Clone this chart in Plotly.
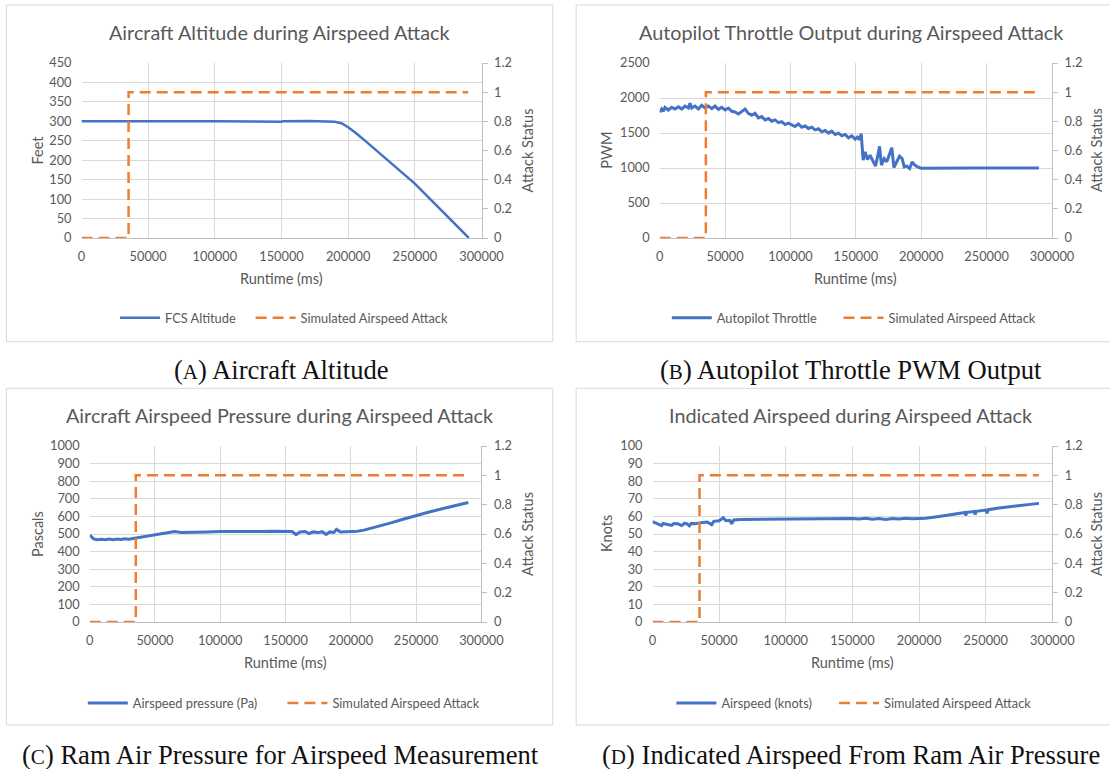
import plotly.graph_objects as go

W, H = 1110, 769

# ---------------- data ----------------
runtime_ticks = [0, 50000, 100000, 150000, 200000, 250000, 300000]

# Simulated airspeed attack status (secondary axis)
atk_x = [0, 35300, 35300, 290000]
atk_y = [0, 0, 1, 1]

# (A) FCS altitude (feet)
alt_x = [0, 20000, 40000, 65000, 66000, 100000, 150000, 151000, 170000, 185000,
         190000, 195000, 200000, 205000, 210000, 250000, 290500]
alt_y = [300, 300, 300, 300, 301, 300, 299, 300, 301, 300,
         299, 295, 285, 272, 258, 140, 0]

# (B) Autopilot throttle (PWM)
thr_x = [0, 1500, 2800, 4000, 6600, 9200, 11700, 14300, 16800, 19400, 21900, 23200,
         24500, 27000, 29600, 32100, 34700, 37200, 39800, 42300, 44900, 47400, 50000,
         52500, 55100, 57600, 60200, 62700, 65300, 67800, 70400, 72900, 75500, 78000,
         80600, 83100, 85700, 88200, 90800, 93300, 95900, 98400, 101000, 103500, 106100,
         108600, 111200, 113700, 116300, 118800, 121400, 124000, 126500, 129100, 131600,
         134200, 136700, 139300, 141800, 144400, 146900, 149500, 151200, 152800, 154100,
         154800, 155600, 157100, 158900, 160900, 163000, 165000, 166600, 168100, 169600,
         171700, 173700, 175700, 177500, 179100, 181400, 183400, 185400, 187000, 189000,
         191100, 193100, 195100, 197200, 199700, 240000, 290000]
thr_y = [1795, 1843, 1810, 1866, 1828, 1866, 1843, 1875, 1843, 1885, 1857, 1923,
         1857, 1885, 1843, 1895, 1857, 1885, 1848, 1885, 1838, 1866, 1829,
         1857, 1810, 1800, 1772, 1810, 1843, 1781, 1753, 1781, 1715, 1734,
         1687, 1706, 1668, 1687, 1649, 1663, 1621, 1640, 1611, 1593, 1630,
         1583, 1602, 1564, 1583, 1545, 1560, 1517, 1536, 1498, 1526,
         1479, 1498, 1460, 1479, 1432, 1460, 1413, 1441, 1404, 1489,
         1276, 1111, 1229, 1120, 1182, 1102, 1027, 1158, 1309, 1041,
         1135, 1088, 1182, 1290, 1007, 1088, 1168, 1135, 1017, 1027,
         993, 1088, 1041, 1017, 998, 1000, 1000]

# (C) Airspeed pressure (Pa)
pa_x = [0, 1500, 3000, 6000, 9000, 12000, 15000, 18000, 21000, 24000, 27000, 30000,
        33000, 36000, 40000, 45000, 50000, 55000, 60000, 65000, 70000, 75000, 80000,
        90000, 100000, 110000, 120000, 130000, 140000, 150000, 153000, 155000, 158000,
        161000, 165000, 168000, 171000, 175000, 178000, 181000, 184000, 187000, 189000,
        192000, 196000, 200000, 205000, 210000, 220000, 230000, 240000, 250000, 260000,
        270000, 280000, 290000]
pa_y = [494, 480, 472, 468, 470, 467, 471, 468, 472, 469, 473, 470,
        474, 477, 482, 490, 497, 503, 506, 514, 508, 510, 511,
        512, 514, 513, 515, 514, 516, 515, 517, 514, 497,
        512, 514, 502, 512, 508, 513, 498, 512, 509, 526,
        512, 513, 514, 516, 522, 540, 562, 584, 606, 625,
        643, 661, 679]

# (D) Indicated airspeed (knots)
kn_x = [0, 2000, 4000, 6880, 8000, 11000, 14380, 16000, 19000, 21880, 24000, 26000,
        27630, 29000, 32000, 35000, 38000, 41000, 44400, 46000, 50000, 53150, 55000,
        58000, 59400, 61000, 66000, 75000, 90000, 105000, 120000, 135000, 150000,
        155000, 160000, 165000, 170000, 175000, 180000, 185000, 190000, 195000, 200000,
        205000, 215000, 225000, 234500, 235000, 236000, 241700, 242000, 243000, 250000,
        251000, 252000, 260000, 270000, 280000, 290000]
kn_y = [57.0, 56.3, 55.8, 54.8, 56.0, 55.6, 54.9, 56.0, 55.8, 54.8, 56.1, 55.7,
        54.6, 56.0, 55.8, 56.2, 56.5, 56.8, 55.3, 57.2, 57.5, 59.2, 57.6,
        57.8, 55.8, 58.0, 58.3, 58.4, 58.5, 58.6, 58.6, 58.7, 58.8,
        58.5, 58.9, 58.4, 58.8, 58.3, 58.8, 58.5, 58.9, 58.7, 58.8,
        59.0, 60.0, 61.2, 62.2, 60.5, 62.3, 62.8, 61.0, 62.9, 63.6,
        61.8, 63.8, 64.8, 65.8, 66.6, 67.4]

titles = ["Aircraft Altitude during Airspeed Attack",
          "Autopilot Throttle Output during Airspeed Attack",
          "Aircraft Airspeed Pressure during Airspeed Attack",
          "Indicated Airspeed during Airspeed Attack"]
y_titles = ["Feet", "PWM", "Pascals", "Knots"]
series_names = ["FCS Altitude", "Autopilot Throttle", "Airspeed pressure (Pa)", "Airspeed (knots)"]
atk_name = "Simulated Airspeed Attack"
captions = ["(<span style='font-size:21px'>A</span>) Aircraft Altitude",
            "(<span style='font-size:21px'>B</span>) Autopilot Throttle PWM Output",
            "(<span style='font-size:21px'>C</span>) Ram Air Pressure for Airspeed Measurement",
            "(<span style='font-size:21px'>D</span>) Indicated Airspeed From Ram Air Pressure"]
y_max = [450, 2500, 1000, 100]
y_dtick = [50, 500, 100, 10]
series_x = [alt_x, thr_x, pa_x, kn_x]
series_y = [alt_y, thr_y, pa_y, kn_y]
series_w = [2.5, 3, 3, 3]

# ---------------- layout geometry (pixels) ----------------
FONT = "Lato, 'Open Sans', sans-serif"
SERIF = "'Liberation Serif', 'DejaVu Serif', serif"
GRAY = "#595959"
GRID = "#d9d9d9"
AXL = "#bfbfbf"
BLUE = "#4472C4"
ORANGE = "#ED7D31"

def fx(p):
    return p / W

def fy(p):
    return 1 - p / H

geo = [
    dict(plot_x=(81.5, 481.5), plot_y=(63, 238), box=(6.4, 5, 552.8, 341.7),
         title=(279.6, 31.7), ytl_x=37, ytr_x=527, xt_y=279, leg_y=318,
         leg_x=(120, 255.6), cap=(281, 370)),
    dict(plot_x=(659.7, 1052), plot_y=(63, 238), box=(576.2, 5, None, 341.7),
         title=(850.6, 31.7), ytl_x=606.3, ytr_x=1096.6, xt_y=279, leg_y=318,
         leg_x=(671.8, 843.5), cap=(850.6, 370)),
    dict(plot_x=(89.7, 481.4), plot_y=(446, 622), box=(6.4, 388.3, 552.8, 725),
         title=(279.6, 415), ytl_x=37, ytr_x=527, xt_y=662.7, leg_y=703.3,
         leg_x=(87.8, 287.4), cap=(280.5, 755)),
    dict(plot_x=(652.5, 1052.3), plot_y=(446, 622), box=(576.2, 388.3, None, 725),
         title=(850.6, 415), ytl_x=606, ytr_x=1096, xt_y=662.7, leg_y=703.3,
         leg_x=(676.4, 839), cap=(850.6, 755)),
]

LEG_OFF = 5  # internal offset of legend symbol inside the legend box

fig = go.Figure()
layout = dict(width=W, height=H, autosize=False,
              margin=dict(l=0, r=0, t=0, b=0, pad=0, autoexpand=False),
              paper_bgcolor="white", plot_bgcolor="rgba(0,0,0,0)",
              showlegend=True, font=dict(family=FONT, color=GRAY))
annotations = []
shapes = []

for i in range(4):
    g = geo[i]
    n = i + 1
    xname = "xaxis" if n == 1 else f"xaxis{n}"
    xref = "x" if n == 1 else f"x{n}"
    yl = 2 * n - 1
    yr = 2 * n
    ylname = "yaxis" if yl == 1 else f"yaxis{yl}"
    yrname = f"yaxis{yr}"
    ylref = "y" if yl == 1 else f"y{yl}"
    yrref = f"y{yr}"
    xd = [fx(g["plot_x"][0]), fx(g["plot_x"][1])]
    yd = [fy(g["plot_y"][1]), fy(g["plot_y"][0])]

    layout[xname] = dict(domain=xd, anchor=ylref, range=[0, 300000], automargin=False,
                         tickvals=runtime_ticks, ticktext=[str(v) for v in runtime_ticks],
                         showgrid=True, gridcolor=GRID, gridwidth=1,
                         zeroline=False, showline=True, linecolor=AXL, linewidth=1,
                         ticks="", ticklabelstandoff=7,
                         tickfont=dict(family=FONT, size=12.8, color=GRAY),
                         fixedrange=True)
    layout[ylname] = dict(domain=yd, anchor=xref, range=[0, y_max[i]], dtick=y_dtick[i],
                          tick0=0, automargin=False, showgrid=True, gridcolor=GRID,
                          gridwidth=1, zeroline=False, showline=False, ticks="",
                          ticklabelstandoff=9,
                          tickfont=dict(family=FONT, size=12.8, color=GRAY),
                          fixedrange=True)
    layout[yrname] = dict(overlaying=ylref, side="right", anchor=xref, automargin=False,
                          range=[0, 1.2], dtick=0.2, tick0=0, showgrid=False,
                          zeroline=False, showline=True, linecolor=AXL, linewidth=1,
                          ticks="outside", ticklen=5, tickcolor=AXL, tickwidth=1,
                          ticklabelstandoff=4,
                          tickfont=dict(family=FONT, size=12.8, color=GRAY),
                          fixedrange=True)

    lg_a = "legend" if i == 0 else f"legend{2 * i + 1}"
    lg_b = f"legend{2 * i + 2}"

    fig.add_trace(go.Scatter(x=series_x[i], y=series_y[i], mode="lines",
                             name=series_names[i], xaxis=xref, yaxis=ylref,
                             line=dict(color=BLUE, width=series_w[i]), legend=lg_a,
                             hoverinfo="skip"))
    fig.add_trace(go.Scatter(x=atk_x, y=atk_y, mode="lines", name=atk_name,
                             xaxis=xref, yaxis=yrref,
                             line=dict(color=ORANGE, width=2.5, dash="11px,6px"),
                             legend=lg_b, hoverinfo="skip"))

    for lg, lx in ((lg_a, g["leg_x"][0]), (lg_b, g["leg_x"][1])):
        layout[lg] = dict(x=fx(lx - LEG_OFF), y=fy(g["leg_y"]), xanchor="left",
                          yanchor="middle", orientation="h",
                          bgcolor="rgba(0,0,0,0)", borderwidth=0,
                          font=dict(family=FONT, size=12.8, color=GRAY),
                          itemwidth=40, itemclick=False, itemdoubleclick=False)

    # chart border (right side of the right-hand charts runs off the page)
    bx0, by0, bx1, by1 = g["box"]
    if bx1 is None:
        path = (f"M {fx(W)},{fy(by0)} L {fx(bx0)},{fy(by0)} "
                f"L {fx(bx0)},{fy(by1)} L {fx(W)},{fy(by1)}")
        shapes.append(dict(type="path", xref="paper", yref="paper", path=path,
                           line=dict(color=GRID, width=1), layer="below"))
    else:
        shapes.append(dict(type="rect", xref="paper", yref="paper",
                           x0=fx(bx0), x1=fx(bx1), y0=fy(by1), y1=fy(by0),
                           line=dict(color=GRID, width=1), fillcolor="rgba(0,0,0,0)",
                           layer="below"))

    # chart title
    annotations.append(dict(text=titles[i], xref="paper", yref="paper",
                            x=fx(g["title"][0]), y=fy(g["title"][1]),
                            xanchor="center", yanchor="middle", showarrow=False,
                            font=dict(family=FONT, size=19.8, color=GRAY)))
    # axis titles
    pyc = (g["plot_y"][0] + g["plot_y"][1]) / 2
    pxc = (g["plot_x"][0] + g["plot_x"][1]) / 2
    annotations.append(dict(text=y_titles[i], xref="paper", yref="paper",
                            x=fx(g["ytl_x"]), y=fy(pyc), textangle=-90,
                            xanchor="center", yanchor="middle", showarrow=False,
                            font=dict(family=FONT, size=14.5, color=GRAY)))
    annotations.append(dict(text="Attack Status", xref="paper", yref="paper",
                            x=fx(g["ytr_x"]), y=fy(pyc), textangle=-90,
                            xanchor="center", yanchor="middle", showarrow=False,
                            font=dict(family=FONT, size=14.5, color=GRAY)))
    annotations.append(dict(text="Runtime (ms)", xref="paper", yref="paper",
                            x=fx(pxc), y=fy(g["xt_y"]),
                            xanchor="center", yanchor="middle", showarrow=False,
                            font=dict(family=FONT, size=14.5, color=GRAY)))
    # caption
    annotations.append(dict(text=captions[i], xref="paper", yref="paper",
                            x=fx(g["cap"][0]), y=fy(g["cap"][1]),
                            xanchor="center", yanchor="middle", showarrow=False,
                            font=dict(family=SERIF, size=26.6, color="#111111")))

layout["annotations"] = annotations
layout["shapes"] = shapes
fig.update_layout(**layout)

fig.write_html("out.html", config={"displayModeBar": False, "staticPlot": True})
